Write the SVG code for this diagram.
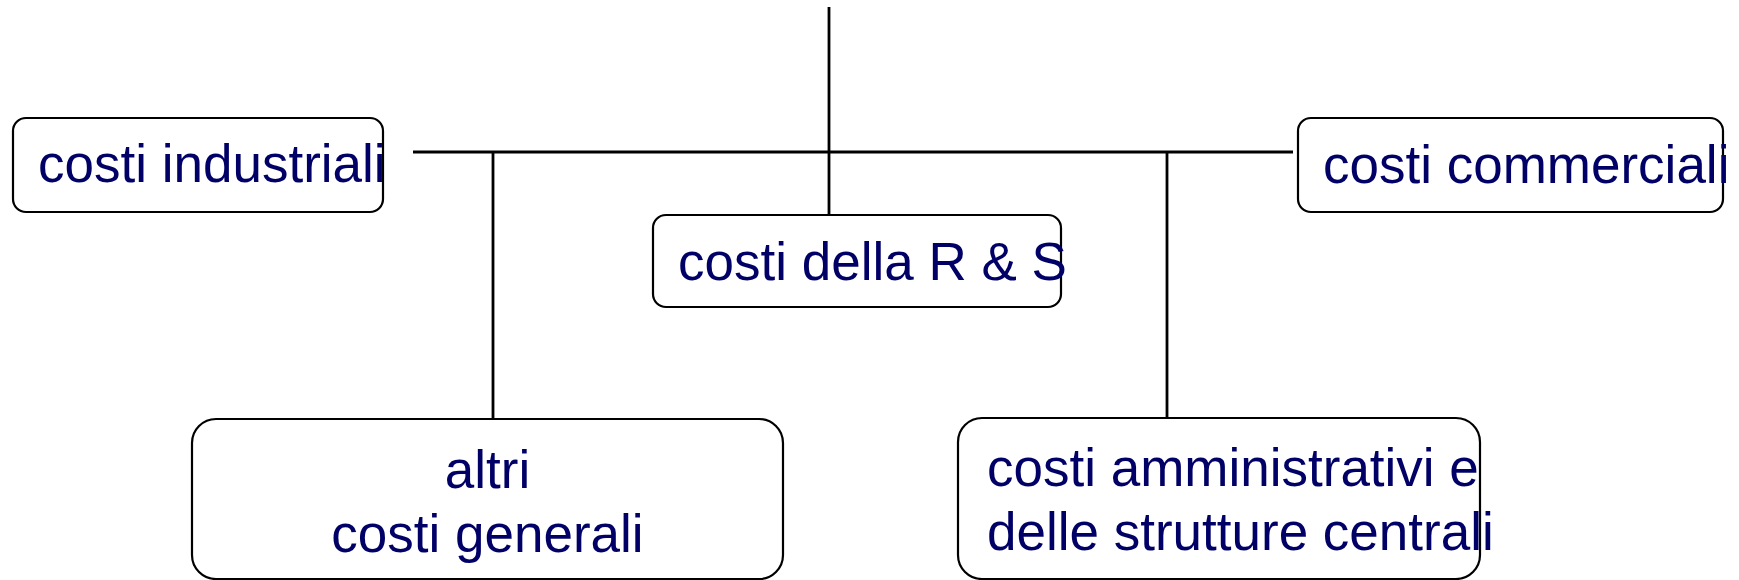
<svg xmlns="http://www.w3.org/2000/svg" width="1739" height="580" viewBox="0 0 1739 580">
<style>
.box{fill:#ffffff;stroke:#000000;stroke-width:2.2}
.lbl{font-family:"Liberation Sans",Arial,sans-serif;font-size:53px;fill:#000066}
.conn{stroke:#000000;stroke-width:2.8;fill:none}
</style>
<rect width="1739" height="580" fill="#ffffff"/>
<g id="connectors">
<line class="conn" x1="829" y1="7" x2="829" y2="214"/>
<line class="conn" x1="413" y1="152" x2="1293" y2="152"/>
<line class="conn" x1="493" y1="152" x2="493" y2="423"/>
<line class="conn" x1="1167" y1="152" x2="1167" y2="423"/>
</g>
<g id="node-industriali">
<rect class="box" x="13" y="118" width="370" height="94" rx="13"/>
<text class="lbl" x="38" y="182">costi industriali</text>
</g>
<g id="node-commerciali">
<rect class="box" x="1298" y="118" width="425" height="94" rx="13"/>
<text class="lbl" x="1323" y="183">costi commerciali</text>
</g>
<g id="node-rs">
<rect class="box" x="653" y="215" width="408" height="92" rx="13"/>
<text class="lbl" x="678" y="280">costi della R &amp; S</text>
</g>
<g id="node-altri">
<rect class="box" x="192" y="419" width="591" height="160" rx="24"/>
<text class="lbl" x="487.5" y="488" text-anchor="middle">altri</text>
<text class="lbl" x="487.5" y="552" text-anchor="middle">costi generali</text>
</g>
<g id="node-amministrativi">
<rect class="box" x="958" y="418" width="522" height="161" rx="24"/>
<text class="lbl" x="987" y="486">costi amministrativi e</text>
<text class="lbl" x="987" y="550">delle strutture centrali</text>
</g>
</svg>
